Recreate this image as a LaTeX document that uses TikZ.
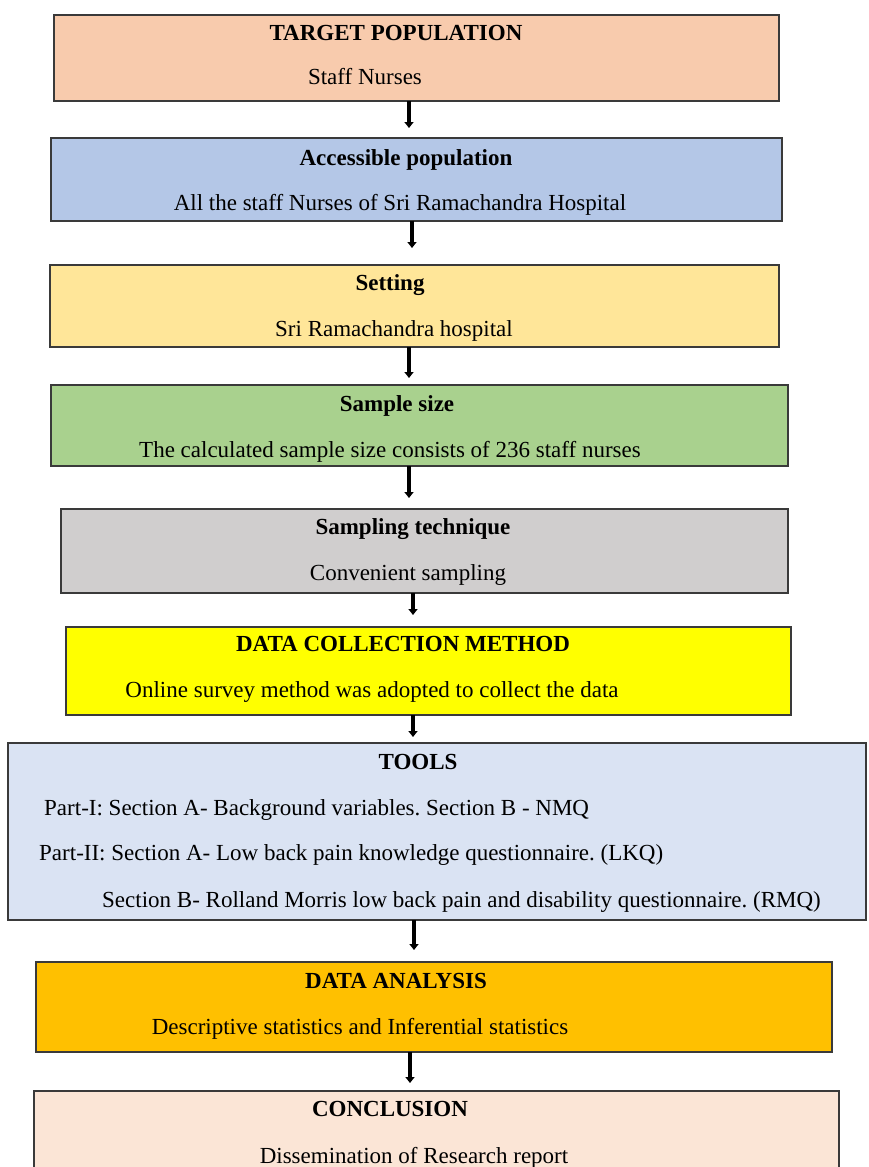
\documentclass[tikz,border=0pt]{standalone}
\usepackage{fontspec}
\setmainfont{Liberation Serif}
\usetikzlibrary{arrows.meta}
\frenchspacing
\definecolor{c1}{HTML}{F8CBAD}
\definecolor{c2}{HTML}{B4C7E7}
\definecolor{c3}{HTML}{FFE699}
\definecolor{c4}{HTML}{A9D18E}
\definecolor{c5}{HTML}{D0CECE}
\definecolor{c6}{HTML}{FFFF00}
\definecolor{c7}{HTML}{DAE3F3}
\definecolor{c8}{HTML}{FFC000}
\definecolor{c9}{HTML}{FBE5D6}
\definecolor{edge}{HTML}{3A3A3A}
\tikzset{
  box/.style={draw=edge, line width=1.6pt, inner sep=0pt, outer sep=0pt, anchor=north west},
  ttl/.style={anchor=base, inner sep=0pt, font=\fontsize{23}{27}\selectfont\bfseries},
  txt/.style={anchor=base, inner sep=0pt, font=\fontsize{23}{27}\selectfont},
  txtl/.style={anchor=base west, inner sep=0pt, font=\fontsize{23}{27}\selectfont},
  arr/.style={line width=3.8pt, -{Triangle[width=9pt,length=6pt]}, black},
}
\begin{document}
\begin{tikzpicture}[x=1pt,y=-1pt]
\useasboundingbox (0,0) rectangle (868,1167);
\begin{scope}
\clip (0,0) rectangle (868,1167);
% boxes
\node[box, fill=c1, minimum width=725pt, minimum height=86pt] (b1) at (54,15) {};
\node[box, fill=c2, minimum width=731pt, minimum height=83pt] (b2) at (51,138) {};
\node[box, fill=c3, minimum width=729pt, minimum height=82pt] (b3) at (50,265) {};
\node[box, fill=c4, minimum width=737pt, minimum height=81pt] (b4) at (51,385) {};
\node[box, fill=c5, minimum width=727pt, minimum height=84pt] (b5) at (61,509) {};
\node[box, fill=c6, minimum width=725pt, minimum height=88pt] (b6) at (66,627) {};
\node[box, fill=c7, minimum width=858pt, minimum height=177pt] (b7) at (8,743) {};
\node[box, fill=c8, minimum width=796pt, minimum height=90pt] (b8) at (36,962) {};
\node[box, fill=c9, minimum width=805pt, minimum height=90pt] (b9) at (34,1091) {};
\end{scope}
% texts
\node[ttl] (t1) at (396,40) {TARGET POPULATION};
\node[txt] (s1) at (365,84) {Staff Nurses};
\node[ttl] (t2) at (406,165) {Accessible population};
\node[txt] (s2) at (400,210) {All the staff Nurses of Sri Ramachandra Hospital};
\node[ttl] (t3) at (390,290) {Setting};
\node[txt] (s3) at (394,336) {Sri Ramachandra hospital};
\node[ttl] (t4) at (397,411) {Sample size};
\node[txt] (s4) at (390,457) {The calculated sample size consists of 236 staff nurses};
\node[ttl] (t5) at (413,534) {Sampling technique};
\node[txt] (s5) at (408,580) {Convenient sampling};
\node[ttl] (t6) at (403,651) {DATA COLLECTION METHOD};
\node[txt] (s6) at (372,697) {Online survey method was adopted to collect the data};
\node[ttl] (t7) at (418,769) {TOOLS};
\node[txtl] (p1) at (44,815) {Part-I: Section A- Background variables. Section B - NMQ};
\node[txtl] (p2) at (39,860) {Part-II: Section A- Low back pain knowledge questionnaire. (LKQ)};
\node[txtl] (p3) at (102,907) {Section B- Rolland Morris low back pain and disability questionnaire. (RMQ)};
\node[ttl] (t8) at (396,988) {DATA ANALYSIS};
\node[txt] (s8) at (360,1034) {Descriptive statistics and Inferential statistics};
\node[ttl] (t9) at (390,1116) {CONCLUSION};
\node[txt] (s9) at (414,1163) {Dissemination of Research report};
% arrow ends
\coordinate (e1) at (409,128);
\coordinate (e2) at (412,248);
\coordinate (e3) at (409,378);
\coordinate (e4) at (409,498);
\coordinate (e5) at (413,615);
\coordinate (e6) at (413,737);
\coordinate (e7) at (414,950);
\coordinate (e8) at (410,1083);
\draw[arr] (b1.south -| e1) -- (e1);
\draw[arr] (b2.south -| e2) -- (e2);
\draw[arr] (b3.south -| e3) -- (e3);
\draw[arr] (b4.south -| e4) -- (e4);
\draw[arr] (b5.south -| e5) -- (e5);
\draw[arr] (b6.south -| e6) -- (e6);
\draw[arr] (b7.south -| e7) -- (e7);
\draw[arr] (b8.south -| e8) -- (e8);
\end{tikzpicture}
\end{document}
